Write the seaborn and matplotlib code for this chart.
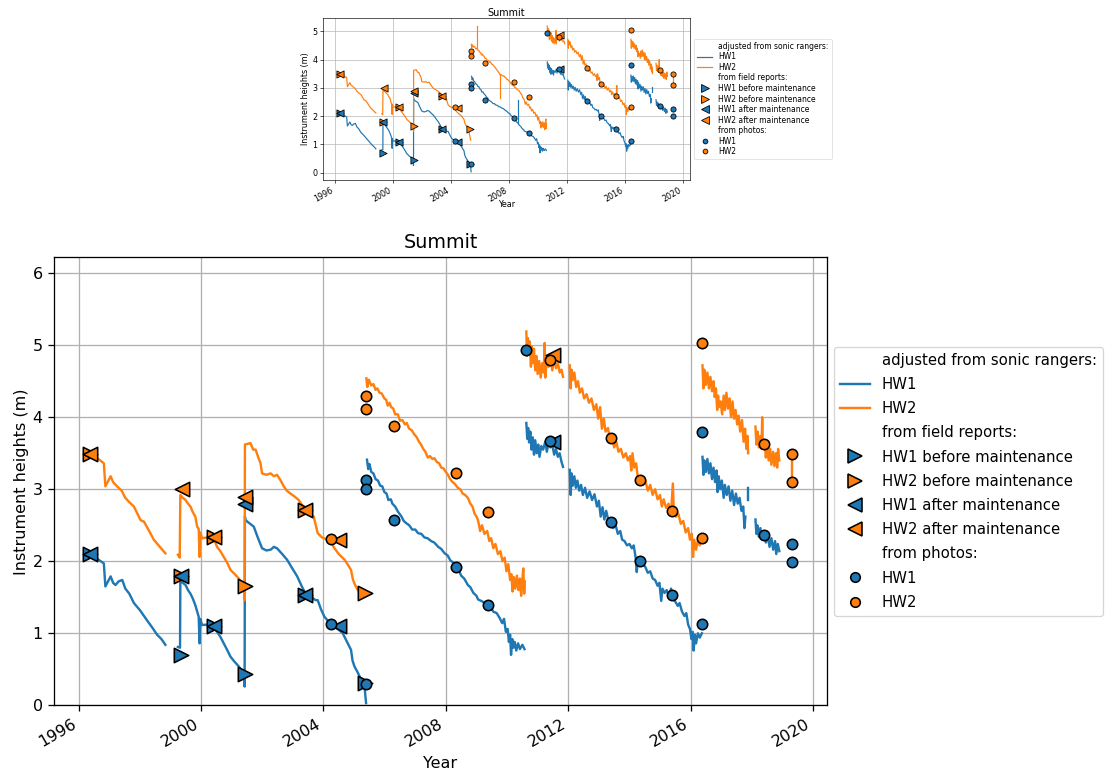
import numpy as np
import pandas as pd
import matplotlib
matplotlib.use("Agg")
import matplotlib.pyplot as plt
import matplotlib.dates as mdates
from matplotlib.lines import Line2D
import seaborn as sns

# ---------------- data (decimal years, heights in m) ----------------
hw1_segments = [
    [(1996.36,2.13),(1996.55,2.05),(1996.82,1.97),(1996.87,1.65),(1997.04,1.79),(1997.12,1.70),(1997.20,1.67),
     (1997.30,1.72),(1997.42,1.74),(1997.52,1.62),(1997.65,1.55),(1997.80,1.42),(1998.00,1.32),(1998.23,1.18),
     (1998.40,1.08),(1998.56,0.98),(1998.70,0.92),(1998.83,0.84)],
    [(1999.24,0.81),(1999.31,0.80),(1999.32,1.72),(1999.40,1.70),(1999.49,1.67),(1999.57,1.60),(1999.65,1.55),
     (1999.73,1.48),(1999.81,1.39),(1999.92,1.23),(1999.95,0.86),(1999.97,1.20),(2000.03,1.115),(2000.20,1.12),
     (2000.40,1.11),(2000.52,1.02),(2000.63,0.95),(2000.74,0.86),(2000.85,0.77),(2000.96,0.675),(2001.10,0.60),
     (2001.23,0.54),(2001.32,0.48),(2001.40,0.40),(2001.42,0.26),(2001.43,2.62),
     (2001.45,2.57),(2001.60,2.52),(2001.72,2.48),(2001.85,2.33),(2001.99,2.18),(2002.13,2.15),(2002.27,2.16),
     (2002.38,2.20),(2002.48,2.18),(2002.65,2.10),(2002.81,2.02),(2002.98,1.90),(2003.14,1.79),(2003.28,1.66),
     (2003.41,1.55),(2003.55,1.52),(2003.74,1.46),(2003.81,1.46),(2003.92,1.33),(2004.03,1.23),(2004.17,1.16),
     (2004.31,1.115),(2004.47,1.06),(2004.63,1.00),(2004.77,0.88),(2004.90,0.77),(2004.95,0.62),(2005.01,0.54),
     (2005.10,0.47),(2005.18,0.40),(2005.26,0.33),(2005.34,0.26),(2005.39,0.03)],
    [(2005.42,3.41),(2005.46,3.28),(2005.50,3.35),(2005.56,3.24),(2005.63,3.22),(2005.70,3.14),(2005.78,3.12),
     (2005.85,3.05),(2005.92,3.04),(2005.99,2.96),(2006.06,2.94),(2006.12,2.85),(2006.20,2.86),(2006.25,2.80),
     (2006.34,2.76),(2006.43,2.69),(2006.55,2.62),(2006.62,2.56),(2006.70,2.53),(2006.80,2.50),(2006.90,2.44),
     (2007.00,2.44),(2007.09,2.39),(2007.20,2.38),(2007.30,2.33),(2007.40,2.32),(2007.52,2.28),(2007.62,2.26),
     (2007.75,2.20),(2007.85,2.17),(2007.96,2.11),(2008.06,2.08),(2008.15,2.01),(2008.25,1.98),(2008.34,1.91),
     (2008.42,1.88),(2008.50,1.80),(2008.60,1.76),(2008.72,1.67),(2008.80,1.64),(2008.90,1.56),(2009.00,1.52),
     (2009.05,1.47),(2009.20,1.44),(2009.37,1.38),(2009.46,1.36),(2009.55,1.30),(2009.66,1.28),(2009.76,1.21),
     (2009.84,1.14),(2009.90,1.20),(2009.96,1.02),(2010.02,1.06),(2010.06,0.88),(2010.10,0.98),(2010.13,0.70),
     (2010.17,0.92),(2010.21,0.80),(2010.25,0.88),(2010.30,0.76),(2010.36,0.86),(2010.42,0.78),(2010.50,0.84),
     (2010.57,0.78)],
    [(2010.63,3.92),(2010.66,3.70),(2010.69,3.85),(2010.72,3.65),(2010.76,3.80),(2010.80,3.55),(2010.84,3.72),
     (2010.88,3.48),(2010.92,3.68),(2010.97,3.50),(2011.02,3.62),(2011.06,3.45),(2011.12,3.60),(2011.18,3.55),
     (2011.25,3.66),(2011.30,3.52),(2011.36,3.64),(2011.42,3.58),(2011.48,3.62),(2011.54,3.48),(2011.60,3.56),
     (2011.66,3.45),(2011.72,3.50),(2011.78,3.38),(2011.83,3.31)],
    [(2012.05,3.27),(2012.08,2.92),(2012.11,3.22),(2012.15,3.05),(2012.20,3.18),(2012.25,3.02),(2012.30,3.12),
     (2012.36,2.98),(2012.42,3.06),(2012.48,2.92),(2012.55,3.02),(2012.62,2.88),(2012.70,2.97),(2012.78,2.85),
     (2012.86,2.93),(2012.94,2.76),(2013.00,2.84),(2013.06,2.62),(2013.12,2.75),(2013.18,2.58),(2013.24,2.70),
     (2013.32,2.55),(2013.40,2.54),(2013.47,2.46),(2013.55,2.50),(2013.62,2.38),(2013.70,2.42),(2013.76,2.30),
     (2013.84,2.28),(2013.92,2.22),(2014.00,2.24),(2014.08,2.18),(2014.14,2.22),(2014.20,2.06),(2014.24,1.85),
     (2014.28,2.05),(2014.36,2.01),(2014.44,1.96),(2014.52,1.92),(2014.60,1.84),(2014.68,1.86),(2014.76,1.76),
     (2014.84,1.74),(2014.92,1.66),(2014.98,1.70),(2015.04,1.45),(2015.08,1.62),(2015.15,1.56),(2015.22,1.60),
     (2015.30,1.50),(2015.36,1.62),(2015.42,1.48),(2015.50,1.44),(2015.58,1.38),(2015.64,1.42),(2015.72,1.30),
     (2015.80,1.24),(2015.86,1.28),(2015.92,1.12),(2015.98,1.06),(2016.03,0.92),(2016.07,1.02),(2016.10,0.76),
     (2016.14,0.98),(2016.18,0.86),(2016.24,1.00),(2016.30,0.94),(2016.37,1.00)],
    [(2016.39,3.45),(2016.42,3.20),(2016.45,3.40),(2016.50,3.24),(2016.55,3.42),(2016.60,3.22),(2016.65,3.36),
     (2016.70,3.14),(2016.75,3.30),(2016.80,3.10),(2016.85,3.26),(2016.88,2.96),(2016.92,3.18),(2016.97,3.00),
     (2017.02,3.12),(2017.08,2.88),(2017.12,3.06),(2017.18,2.92),(2017.24,3.04),(2017.30,2.84),(2017.36,2.98),
     (2017.42,2.78),(2017.48,2.94),(2017.54,2.80),(2017.60,2.88),(2017.66,2.70),(2017.72,2.76),(2017.76,2.46),
     (2017.79,2.62)],
    [(2017.87,3.02),(2017.87,2.85)],
    [(2018.12,2.58),(2018.15,2.38),(2018.18,2.50),(2018.23,2.34),(2018.28,2.46),(2018.34,2.30),(2018.40,2.42),
     (2018.46,2.26),(2018.52,2.36),(2018.58,2.20),(2018.64,2.32),(2018.70,2.16),(2018.76,2.28),(2018.80,2.10),
     (2018.85,2.24),(2018.90,2.14)],
]

hw2_segments = [
    [(1996.36,3.52),(1996.55,3.45),(1996.82,3.36),(1996.87,3.04),(1997.04,3.18),(1997.12,3.10),(1997.25,3.04),
     (1997.40,2.98),(1997.52,2.88),(1997.65,2.82),(1997.80,2.76),(1998.02,2.57),(1998.13,2.55),(1998.30,2.42),
     (1998.45,2.30),(1998.65,2.20),(1998.83,2.11)],
    [(1999.24,2.09),(1999.30,2.05),(1999.32,2.92),(1999.40,2.88),(1999.49,2.85),(1999.57,2.80),(1999.65,2.76),
     (1999.73,2.68),(1999.81,2.62),(1999.87,2.48),(1999.92,2.45),(1999.95,2.06),(1999.97,2.40),(2000.03,2.32),
     (2000.20,2.33),(2000.40,2.33),(2000.52,2.20),(2000.63,2.14),(2000.74,2.06),(2000.85,1.98),(2000.96,1.88),
     (2001.10,1.82),(2001.23,1.76),(2001.32,1.70),(2001.40,1.65),(2001.42,1.46),(2001.43,3.62),
     (2001.61,3.64),(2001.70,3.55),(2001.78,3.55),(2001.86,3.45),(2001.94,3.36),(2001.99,3.22),(2002.13,3.20),
     (2002.27,3.22),(2002.38,3.18),(2002.48,3.20),(2002.60,3.12),(2002.70,3.04),(2002.80,2.98),(2002.92,2.94),
     (2003.05,2.90),(2003.19,2.85),(2003.30,2.78),(2003.41,2.71),(2003.55,2.66),(2003.68,2.62),(2003.81,2.39),
     (2003.95,2.33),(2004.14,2.30),(2004.25,2.26),(2004.36,2.18),(2004.50,2.10),(2004.69,2.02),(2004.80,1.95),
     (2004.90,1.88),(2004.96,1.75),(2005.01,1.69),(2005.12,1.60),(2005.20,1.58)],
    [(2005.40,4.54),(2005.43,4.42),(2005.48,4.52),(2005.56,4.44),(2005.63,4.46),(2005.70,4.38),(2005.76,4.40),
     (2005.83,4.34),(2005.90,4.33),(2005.99,4.26),(2006.05,4.24),(2006.10,4.16),(2006.16,4.20),(2006.21,4.14),
     (2006.28,4.12),(2006.34,4.04),(2006.43,4.04),(2006.50,3.95),(2006.58,3.96),(2006.66,3.90),(2006.72,3.92),
     (2006.80,3.84),(2006.88,3.82),(2006.97,3.76),(2007.05,3.72),(2007.12,3.66),(2007.19,3.62),(2007.26,3.56),
     (2007.33,3.52),(2007.41,3.44),(2007.48,3.46),(2007.56,3.42),(2007.63,3.43),(2007.70,3.38),(2007.78,3.36),
     (2007.85,3.30),(2007.92,3.29),(2008.00,3.24),(2008.07,3.20),(2008.14,3.14),(2008.22,3.10),(2008.30,3.07),
     (2008.39,3.02),(2008.47,3.00),(2008.55,2.94),(2008.63,2.92),(2008.72,2.88),(2008.80,2.80),(2008.87,2.76),
     (2008.94,2.66),(2009.00,2.62),(2009.05,2.57),(2009.12,2.42),(2009.18,2.50),(2009.26,2.38),(2009.35,2.42),
     (2009.42,2.28),(2009.48,2.32),(2009.55,2.18),(2009.62,2.24),(2009.70,2.10),(2009.78,2.14),(2009.85,2.00),
     (2009.92,2.05),(2009.98,1.86),(2010.04,1.96),(2010.10,1.74),(2010.14,1.82),(2010.18,1.58),(2010.22,1.78),
     (2010.27,1.62),(2010.32,1.80),(2010.37,1.60),(2010.42,1.76),(2010.46,1.52),(2010.50,1.74),(2010.53,1.90),
     (2010.56,1.55),(2010.58,1.72)],
    [(2010.63,5.19),(2010.65,4.85),(2010.68,5.10),(2010.71,4.90),(2010.74,5.05),(2010.78,4.70),(2010.81,4.98),
     (2010.85,4.75),(2010.88,4.95),(2010.92,4.65),(2010.96,4.85),(2011.00,4.60),(2011.05,4.78),(2011.10,4.55),
     (2011.15,4.75),(2011.20,4.62),(2011.23,5.03),(2011.25,4.55),(2011.30,4.80),(2011.36,4.70),(2011.42,4.80),
     (2011.48,4.65),(2011.54,4.82),(2011.60,4.68),(2011.66,4.76),(2011.72,4.62),(2011.78,4.66),(2011.83,4.56)],
    [(2012.05,4.72),(2012.08,4.40),(2012.11,4.66),(2012.15,4.52),(2012.20,4.62),(2012.26,4.42),(2012.32,4.50),
     (2012.38,4.34),(2012.45,4.40),(2012.52,4.26),(2012.60,4.32),(2012.68,4.20),(2012.76,4.26),(2012.84,4.10),
     (2012.92,4.18),(2012.98,3.98),(2013.04,4.14),(2013.10,3.84),(2013.16,3.98),(2013.22,3.80),(2013.30,3.85),
     (2013.36,3.68),(2013.42,3.74),(2013.50,3.58),(2013.57,3.66),(2013.64,3.52),(2013.72,3.56),(2013.80,3.44),
     (2013.88,3.50),(2013.95,3.40),(2014.02,3.46),(2014.06,3.26),(2014.10,3.50),(2014.16,3.30),(2014.22,3.36),
     (2014.28,3.14),(2014.36,3.16),(2014.44,3.06),(2014.52,3.12),(2014.60,2.98),(2014.68,3.06),(2014.76,2.92),
     (2014.84,3.00),(2014.92,2.86),(2015.00,2.92),(2015.06,2.76),(2015.12,2.86),(2015.20,2.74),(2015.28,2.80),
     (2015.36,2.66),(2015.42,3.08),(2015.45,2.72),(2015.52,2.62),(2015.60,2.66),(2015.68,2.52),(2015.76,2.56),
     (2015.84,2.40),(2015.92,2.46),(2015.98,2.30),(2016.04,2.38),(2016.08,2.06),(2016.12,2.30),(2016.18,2.16),
     (2016.24,2.30),(2016.30,2.22),(2016.37,2.32)],
    [(2016.39,4.72),(2016.42,4.40),(2016.45,4.66),(2016.50,4.45),(2016.55,4.62),(2016.60,4.40),(2016.65,4.56),
     (2016.70,4.36),(2016.75,4.50),(2016.79,4.28),(2016.83,4.40),(2016.87,4.10),(2016.90,4.30),(2016.93,4.14),
     (2016.98,4.22),(2017.03,4.04),(2017.08,4.30),(2017.12,4.10),(2017.17,4.34),(2017.22,4.12),(2017.27,4.26),
     (2017.32,4.00),(2017.37,4.22),(2017.42,3.98),(2017.47,4.10),(2017.52,3.90),(2017.57,4.02),(2017.62,3.80),
     (2017.68,3.96),(2017.73,3.66),(2017.78,3.84),(2017.82,3.56),(2017.86,3.74),(2017.88,3.50)],
    [(2018.12,3.87),(2018.15,3.62),(2018.19,3.80),(2018.23,3.58),(2018.28,3.74),(2018.32,3.56),(2018.34,4.00),
     (2018.36,3.60),(2018.42,3.66),(2018.46,3.44),(2018.50,3.62),(2018.55,3.40),(2018.60,3.56),(2018.64,3.34),
     (2018.70,3.52),(2018.74,3.32),(2018.79,3.50),(2018.83,3.30),(2018.86,3.56),(2018.90,3.40)],
    [(2019.31,3.40),(2019.31,3.17)],
]

# spikes only visible in the small (unfiltered) version
thumb_hw1_spikes = [[(2008.62,1.75),(2008.62,2.58)]]
thumb_hw2_spikes = [[(2005.80,4.40),(2005.80,5.20)], [(2007.38,3.50),(2007.38,2.65)],
                    [(2005.20,1.58),(2005.35,1.15)]]

# field reports
hw1_before_t = [1996.36, 1999.35, 2000.41, 2001.42, 2003.41, 2005.34]
hw1_before_h = [2.10, 0.70, 1.10, 0.44, 1.53, 0.31]
hw2_before_t = [1996.36, 1999.35, 2000.41, 2001.42, 2003.41, 2005.34]
hw2_before_h = [3.49, 1.80, 2.33, 1.65, 2.71, 1.555]
hw1_after_t = [1996.36, 1999.35, 2000.41, 2001.42, 2003.41, 2004.52, 2011.50]
hw1_after_h = [2.10, 1.80, 1.10, 2.80, 1.53, 1.10, 3.66]
hw2_after_t = [1996.36, 1999.38, 2000.41, 2001.42, 2003.41, 2004.52, 2011.50]
hw2_after_h = [3.49, 3.00, 2.33, 2.89, 2.71, 2.30, 4.87]

# photos
hw1_photo_t = [2004.25, 2005.40, 2005.40, 2005.40, 2006.32, 2008.34, 2009.37, 2010.63, 2011.42, 2013.40,
               2014.36, 2015.39, 2016.39, 2016.39, 2018.39, 2019.31, 2019.31]
hw1_photo_h = [1.13, 0.30, 3.13, 3.00, 2.57, 1.92, 1.39, 4.93, 3.67, 2.54,
               2.01, 1.53, 3.79, 1.13, 2.37, 2.24, 1.99]
hw2_photo_t = [2004.25, 2005.40, 2005.40, 2006.32, 2008.33, 2009.37, 2011.42, 2013.40, 2014.36, 2015.39,
               2016.39, 2016.39, 2018.39, 2019.31, 2019.31]
hw2_photo_h = [2.31, 4.30, 4.12, 3.875, 3.22, 2.69, 4.80, 3.71, 3.125, 2.70,
               5.03, 2.32, 3.63, 3.49, 3.10]

year_ticks = ["1996", "2000", "2004", "2008", "2012", "2016", "2020"]
legend_labels = ["adjusted from sonic rangers:", "HW1", "HW2", "from field reports:",
                 "HW1 before maintenance", "HW2 before maintenance", "HW1 after maintenance",
                 "HW2 after maintenance", "from photos:", "HW1", "HW2"]

C1, C2 = "#1f77b4", "#ff7f0e"


def to_date(y):
    yr = int(np.floor(y))
    return pd.Timestamp(year=yr, month=1, day=1) + pd.Timedelta(days=(y - yr) * 365.25)


def seg_frame(segments):
    rows = []
    for i, seg in enumerate(segments):
        for t, h in seg:
            rows.append({"date": to_date(t), "h": h, "seg": i})
    return pd.DataFrame(rows)


def pts_frame(ts, hs):
    return pd.DataFrame({"date": [to_date(t) for t in ts], "h": hs})


def draw(ax, s, thumb, leg_fs, leg_spacing, xlabelpad, titlepad):
    lw = 1.5 * s
    line_sets = [(hw1_segments + (thumb_hw1_spikes if thumb else []), C1),
                 (hw2_segments + (thumb_hw2_spikes if thumb else []), C2)]
    for segs, c in line_sets:
        df = seg_frame(segs)
        sns.lineplot(data=df, x="date", y="h", units="seg", estimator=None, sort=False,
                     color=c, lw=lw, ax=ax, legend=False)
    tri = (9 * s) ** 2
    circ = (6.5 * s) ** 2
    for ts, hs, m, c in [(hw1_before_t, hw1_before_h, ">", C1), (hw2_before_t, hw2_before_h, ">", C2),
                         (hw1_after_t, hw1_after_h, "<", C1), (hw2_after_t, hw2_after_h, "<", C2)]:
        sns.scatterplot(data=pts_frame(ts, hs), x="date", y="h", marker=m, s=tri, color=c,
                        edgecolor="black", linewidth=1.0 * s, ax=ax, legend=False, zorder=3)
    for ts, hs, c in [(hw1_photo_t, hw1_photo_h, C1), (hw2_photo_t, hw2_photo_h, C2)]:
        sns.scatterplot(data=pts_frame(ts, hs), x="date", y="h", marker="o", s=circ, color=c,
                        edgecolor="black", linewidth=1.0 * s, ax=ax, legend=False, zorder=4)

    ax.set_xlim(mdates.date2num(to_date(1995.19)), mdates.date2num(to_date(2020.46)))
    ax.set_xticks([mdates.date2num(to_date(float(y))) for y in year_ticks])
    ax.set_xticklabels(year_ticks, rotation=30, ha="right", fontsize=10 * s)
    ax.tick_params(axis="both", labelsize=10 * s, width=0.8 * s, length=3.5 * s, pad=3.5 * s)
    ax.grid(True, color="#b0b0b0", lw=0.8 * s)
    for sp in ax.spines.values():
        sp.set_linewidth(0.8 * s)
    ax.set_xlabel("Year", fontsize=10 * s, labelpad=xlabelpad)
    ax.set_ylabel("Instrument heights (m)", fontsize=10 * s, labelpad=2.5 * s)
    ax.set_title("Summit", fontsize=12 * s, pad=titlepad)

    none = Line2D([], [], linestyle="None", marker=None)
    ms_t = 9 * s
    ms_c = 6 * s
    handles = [none,
               Line2D([], [], color=C1, lw=lw),
               Line2D([], [], color=C2, lw=lw),
               none,
               Line2D([], [], color=C1, marker=">", ls="None", ms=ms_t, mec="black", mew=s),
               Line2D([], [], color=C2, marker=">", ls="None", ms=ms_t, mec="black", mew=s),
               Line2D([], [], color=C1, marker="<", ls="None", ms=ms_t, mec="black", mew=s),
               Line2D([], [], color=C2, marker="<", ls="None", ms=ms_t, mec="black", mew=s),
               none,
               Line2D([], [], color=C1, marker="o", ls="None", ms=ms_c, mec="black", mew=s),
               Line2D([], [], color=C2, marker="o", ls="None", ms=ms_c, mec="black", mew=s)]
    leg = ax.legend(handles, legend_labels, loc="center left", bbox_to_anchor=(1, 0.5),
                    fontsize=leg_fs, labelspacing=leg_spacing, frameon=True)
    leg.get_frame().set_linewidth(0.8 * s)


DPI = 115
fig = plt.figure(figsize=(1105 / DPI, 772 / DPI), dpi=DPI)
W, H = 1105, 772

# large panel
ax_big = fig.add_axes([54 / W, 1 - 705.3 / H, (827 - 54) / W, (705.3 - 257.3) / H])
draw(ax_big, 1.0, False, leg_fs=9.3, leg_spacing=0.62, xlabelpad=4, titlepad=6)
ax_big.set_ylim(0, 6.22)
ax_big.set_yticks([0, 1, 2, 3, 4, 5, 6])

# small panel (thumbnail)
ax_small = fig.add_axes([323 / W, 1 - 180 / H, (690 - 323) / W, (180 - 18) / H])
draw(ax_small, 0.5, True, leg_fs=4.8, leg_spacing=0.2, xlabelpad=-2, titlepad=1.5)
ax_small.set_ylim(-0.26, 5.47)
ax_small.set_yticks([0, 1, 2, 3, 4, 5])

fig.savefig("out.png", dpi=DPI)
